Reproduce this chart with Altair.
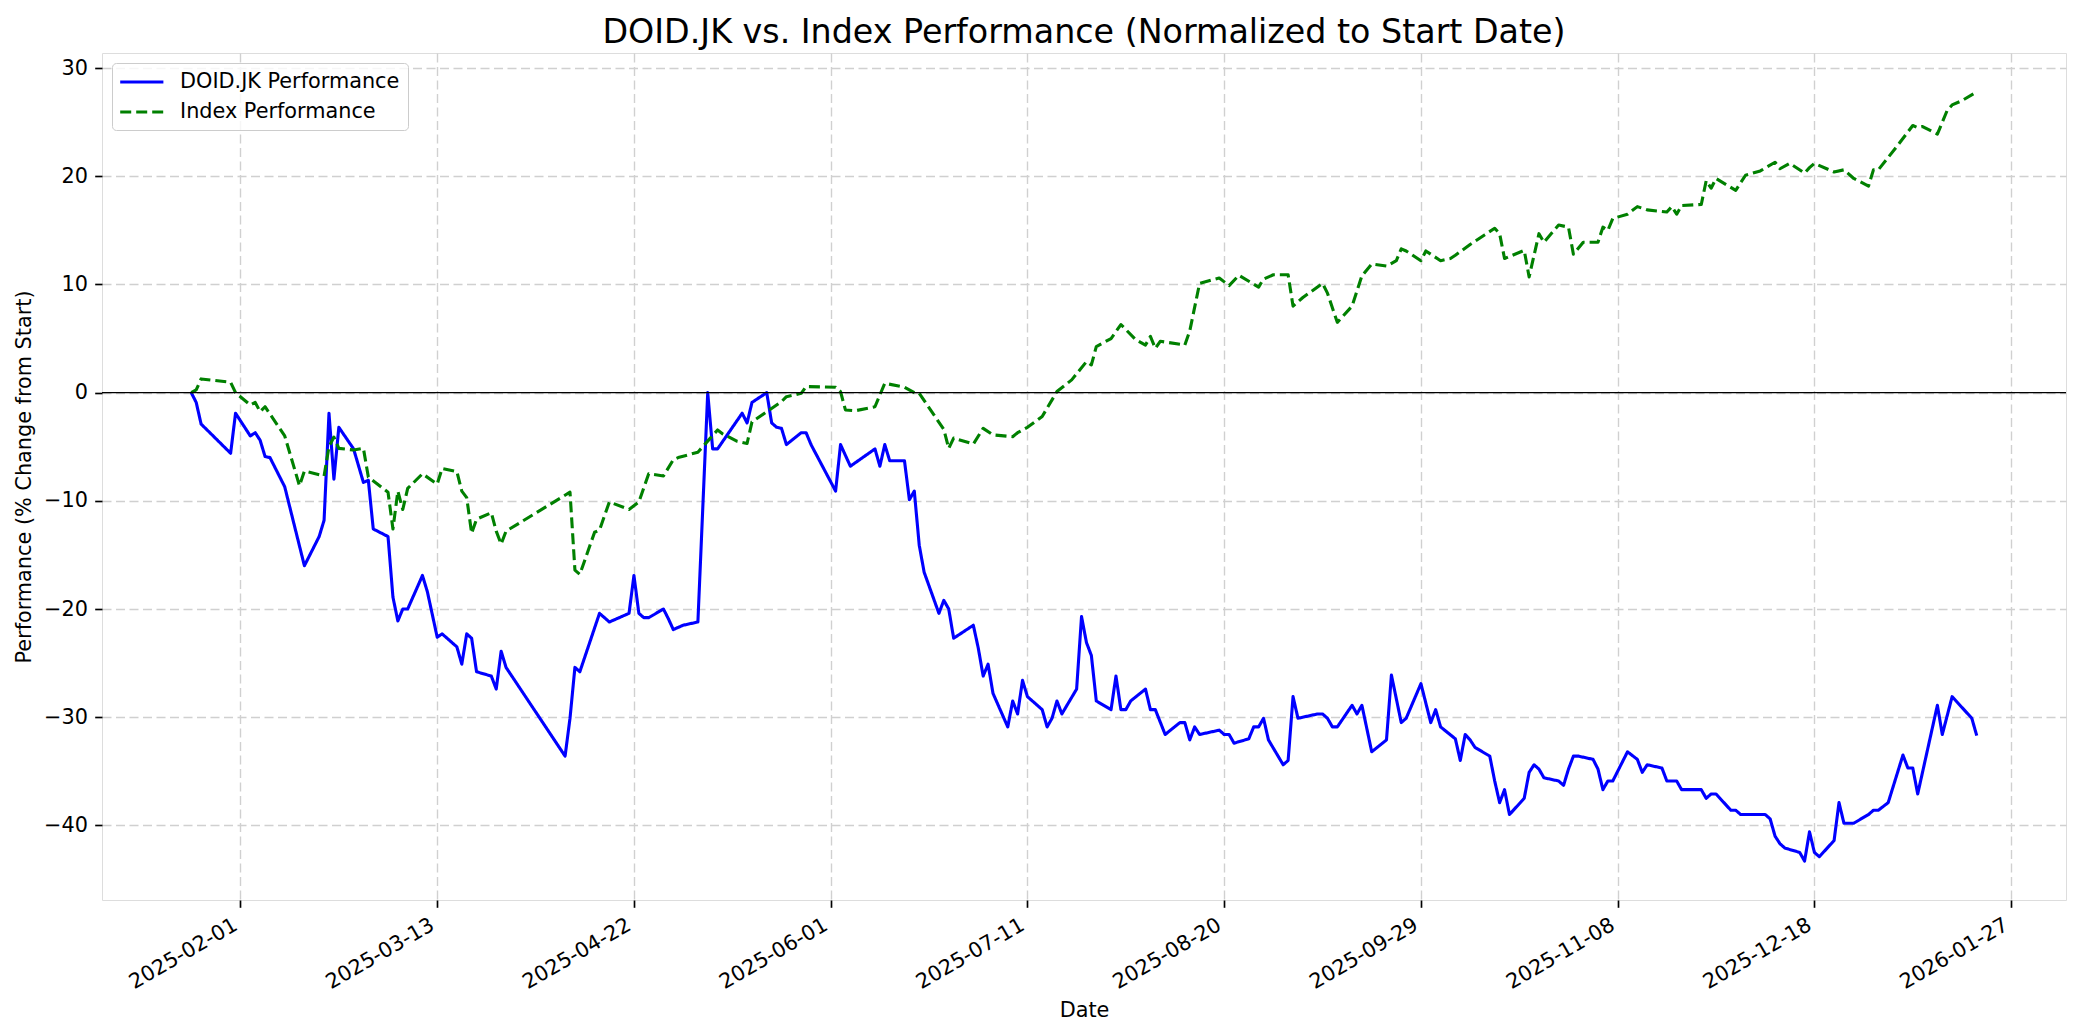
import altair as alt
import pandas as pd

# ---------------- data ----------------
doid_dates = [
    "2025-01-22", "2025-01-23", "2025-01-24", "2025-01-30", "2025-01-31",
    "2025-02-03", "2025-02-04", "2025-02-05", "2025-02-06", "2025-02-07",
    "2025-02-10", "2025-02-14", "2025-02-17", "2025-02-18", "2025-02-19", "2025-02-20", "2025-02-21",
    "2025-02-24", "2025-02-26", "2025-02-27", "2025-02-28",
    "2025-03-03", "2025-03-04", "2025-03-05", "2025-03-06", "2025-03-07",
    "2025-03-10", "2025-03-11", "2025-03-13", "2025-03-14",
    "2025-03-17", "2025-03-18", "2025-03-19", "2025-03-20", "2025-03-21",
    "2025-03-24", "2025-03-25", "2025-03-26", "2025-03-27",
    "2025-04-08", "2025-04-09", "2025-04-10", "2025-04-11",
    "2025-04-15", "2025-04-17", "2025-04-21", "2025-04-22", "2025-04-23", "2025-04-24", "2025-04-25",
    "2025-04-28", "2025-04-29", "2025-04-30", "2025-05-02",
    "2025-05-05", "2025-05-07", "2025-05-08", "2025-05-09",
    "2025-05-14", "2025-05-15", "2025-05-16",
    "2025-05-19", "2025-05-20", "2025-05-21", "2025-05-22", "2025-05-23",
    "2025-05-26", "2025-05-27", "2025-05-28",
    "2025-06-02", "2025-06-03", "2025-06-05",
    "2025-06-10", "2025-06-11", "2025-06-12", "2025-06-13",
    "2025-06-16", "2025-06-17", "2025-06-18", "2025-06-19", "2025-06-20",
    "2025-06-23", "2025-06-24", "2025-06-25", "2025-06-26",
    "2025-06-30", "2025-07-01", "2025-07-02", "2025-07-03", "2025-07-04",
    "2025-07-07", "2025-07-08", "2025-07-09", "2025-07-10", "2025-07-11",
    "2025-07-14", "2025-07-15", "2025-07-16", "2025-07-17", "2025-07-18",
    "2025-07-21", "2025-07-22", "2025-07-23", "2025-07-24", "2025-07-25",
    "2025-07-28", "2025-07-29", "2025-07-30", "2025-07-31", "2025-08-01",
    "2025-08-04", "2025-08-05", "2025-08-06", "2025-08-08",
    "2025-08-11", "2025-08-12", "2025-08-13", "2025-08-14", "2025-08-15",
    "2025-08-19", "2025-08-20", "2025-08-21", "2025-08-22",
    "2025-08-25", "2025-08-26", "2025-08-27", "2025-08-28", "2025-08-29",
    "2025-09-01", "2025-09-02", "2025-09-03", "2025-09-04",
    "2025-09-08", "2025-09-09", "2025-09-10", "2025-09-11", "2025-09-12",
    "2025-09-15", "2025-09-16", "2025-09-17", "2025-09-19",
    "2025-09-22", "2025-09-23", "2025-09-25", "2025-09-26",
    "2025-09-29", "2025-10-01", "2025-10-02", "2025-10-03",
    "2025-10-06", "2025-10-07", "2025-10-08", "2025-10-09", "2025-10-10",
    "2025-10-13", "2025-10-14", "2025-10-15", "2025-10-16", "2025-10-17",
    "2025-10-20", "2025-10-21", "2025-10-22", "2025-10-23", "2025-10-24",
    "2025-10-27", "2025-10-28", "2025-10-29", "2025-10-30", "2025-10-31",
    "2025-11-03", "2025-11-04", "2025-11-05", "2025-11-06", "2025-11-07",
    "2025-11-10", "2025-11-12", "2025-11-13", "2025-11-14",
    "2025-11-17", "2025-11-18", "2025-11-20", "2025-11-21",
    "2025-11-25", "2025-11-26", "2025-11-27", "2025-11-28",
    "2025-12-01", "2025-12-02", "2025-12-03",
    "2025-12-08", "2025-12-09", "2025-12-10", "2025-12-11", "2025-12-12",
    "2025-12-15", "2025-12-16", "2025-12-17", "2025-12-18", "2025-12-19",
    "2025-12-22", "2025-12-23", "2025-12-24", "2025-12-26",
    "2025-12-29", "2025-12-30", "2025-12-31", "2026-01-02",
    "2026-01-05", "2026-01-06", "2026-01-07", "2026-01-08",
    "2026-01-12", "2026-01-13", "2026-01-15", "2026-01-19", "2026-01-20",
]
doid_values = [
    0.0, -0.9, -2.9, -5.6, -1.9,
    -4.0, -3.7, -4.4, -5.9, -6.0,
    -8.7, -16.0, -13.3, -11.8, -1.9, -8.0, -3.2,
    -5.2, -8.3, -8.1, -12.6,
    -13.3, -18.9, -21.1, -20.0, -20.0,
    -16.9, -18.4, -22.6, -22.3,
    -23.5, -25.1, -22.3, -22.7, -25.8,
    -26.2, -27.4, -23.9, -25.4,
    -33.6, -30.1, -25.4, -25.8,
    -20.4, -21.2, -20.4, -16.9, -20.4, -20.8, -20.8,
    -20.0, -20.9, -21.9, -21.5,
    -21.2, 0.0, -5.2, -5.2,
    -1.9, -2.8, -0.9,
    0.0, -2.8, -3.2, -3.3, -4.8,
    -3.7, -3.7, -4.8,
    -9.1, -4.8, -6.8,
    -5.2, -6.8, -4.8, -6.3,
    -6.3, -9.9, -9.1, -14.1, -16.6,
    -20.4, -19.2, -20.0, -22.7,
    -21.5, -23.6, -26.2, -25.1, -27.8,
    -30.9, -28.5, -29.7, -26.6, -28.1,
    -29.3, -30.9, -30.1, -28.5, -29.7,
    -27.4, -20.7, -23.1, -24.3, -28.5,
    -29.3, -26.2, -29.3, -29.3, -28.5,
    -27.4, -29.3, -29.3, -31.6,
    -30.5, -30.5, -32.1, -30.9, -31.6,
    -31.2, -31.6, -31.6, -32.4,
    -32.0, -30.9, -30.9, -30.1, -32.1,
    -34.4, -34.0, -28.1, -30.1,
    -29.7, -29.7, -30.1, -30.9, -30.9,
    -28.9, -29.7, -28.9, -33.2,
    -32.1, -26.1, -30.5, -30.1,
    -26.9, -30.5, -29.3, -30.9,
    -32.0, -34.0, -31.6, -32.1, -32.8,
    -33.6, -35.9, -37.9, -36.7, -39.0,
    -37.5, -35.1, -34.4, -34.8, -35.6,
    -35.9, -36.3, -34.8, -33.6, -33.6,
    -33.9, -34.8, -36.7, -35.9, -35.9,
    -33.2, -33.9, -35.1, -34.4,
    -34.7, -35.9, -35.9, -36.7,
    -36.7, -37.5, -37.1, -37.1,
    -38.6, -38.6, -39.0,
    -39.0, -39.4, -41.0, -41.7, -42.1,
    -42.5, -43.3, -40.6, -42.5, -42.9,
    -41.4, -37.9, -39.8, -39.8,
    -39.0, -38.6, -38.6, -37.9,
    -33.5, -34.7, -34.7, -37.1,
    -28.9, -31.6, -28.1, -30.1, -31.7,
]

index_dates = [
    "2025-01-22", "2025-01-23", "2025-01-24", "2025-01-30", "2025-01-31",
    "2025-02-03", "2025-02-04", "2025-02-05", "2025-02-06", "2025-02-10",
    "2025-02-13", "2025-02-14", "2025-02-18", "2025-02-19", "2025-02-20", "2025-02-21",
    "2025-02-24", "2025-02-26", "2025-02-27",
    "2025-03-03", "2025-03-04", "2025-03-05", "2025-03-06", "2025-03-07",
    "2025-03-10", "2025-03-13", "2025-03-14",
    "2025-03-17", "2025-03-18", "2025-03-19", "2025-03-20", "2025-03-21",
    "2025-03-24", "2025-03-25", "2025-03-26", "2025-03-27",
    "2025-04-09", "2025-04-10", "2025-04-11",
    "2025-04-14", "2025-04-15", "2025-04-17", "2025-04-21", "2025-04-23", "2025-04-25",
    "2025-04-28", "2025-04-30", "2025-05-01",
    "2025-05-05", "2025-05-09", "2025-05-10", "2025-05-13", "2025-05-15", "2025-05-16",
    "2025-05-21", "2025-05-22", "2025-05-23", "2025-05-26", "2025-05-27",
    "2025-06-02", "2025-06-03", "2025-06-04", "2025-06-06",
    "2025-06-10", "2025-06-12", "2025-06-16", "2025-06-18", "2025-06-19",
    "2025-06-24", "2025-06-25", "2025-06-26", "2025-06-30",
    "2025-07-02", "2025-07-04", "2025-07-08", "2025-07-09", "2025-07-11",
    "2025-07-14", "2025-07-17", "2025-07-20", "2025-07-23", "2025-07-24", "2025-07-25",
    "2025-07-28", "2025-07-30", "2025-08-02", "2025-08-04", "2025-08-05", "2025-08-06", "2025-08-07",
    "2025-08-12", "2025-08-13", "2025-08-15", "2025-08-19", "2025-08-21", "2025-08-23",
    "2025-08-27", "2025-08-28", "2025-08-30", "2025-09-02", "2025-09-03", "2025-09-05",
    "2025-09-09", "2025-09-10", "2025-09-12", "2025-09-15", "2025-09-17", "2025-09-19",
    "2025-09-22", "2025-09-24", "2025-09-25", "2025-09-26", "2025-09-29", "2025-09-30",
    "2025-10-03", "2025-10-05", "2025-10-06", "2025-10-09", "2025-10-12", "2025-10-14",
    "2025-10-15", "2025-10-16",
    "2025-10-20", "2025-10-21", "2025-10-23", "2025-10-24", "2025-10-27", "2025-10-29",
    "2025-10-30",
    "2025-11-01", "2025-11-04", "2025-11-05", "2025-11-06", "2025-11-07", "2025-11-10",
    "2025-11-12", "2025-11-14",
    "2025-11-18", "2025-11-19", "2025-11-20", "2025-11-21", "2025-11-25", "2025-11-26",
    "2025-11-27", "2025-11-28",
    "2025-12-02", "2025-12-04", "2025-12-07", "2025-12-10", "2025-12-11", "2025-12-13",
    "2025-12-16", "2025-12-17", "2025-12-18",
    "2025-12-22", "2025-12-24", "2025-12-26", "2025-12-29", "2025-12-30", "2025-12-31",
    "2026-01-04", "2026-01-07", "2026-01-08", "2026-01-09", "2026-01-12", "2026-01-14",
    "2026-01-15", "2026-01-17", "2026-01-20",
]
index_values = [
    0.0, 0.25, 1.27, 0.96, 0.0,
    -1.14, -0.9, -1.76, -1.3, -4.0,
    -8.6, -7.25, -7.7, -5.0, -4.1, -5.15,
    -5.3, -5.15, -7.8,
    -9.2, -12.6, -9.1, -10.8, -8.85,
    -7.5, -8.45, -7.0,
    -7.3, -9.1, -9.7, -13.0, -11.7,
    -11.1, -12.8, -14.0, -12.8,
    -9.2, -16.4, -16.8,
    -12.9, -12.7, -10.1, -10.8, -10.1, -7.5,
    -7.7, -6.2, -6.0,
    -5.5, -3.45, -3.8, -4.5, -4.7, -2.7,
    -1.14, -0.83, -0.37, -0.06, 0.56,
    0.5, 0.1, -1.6, -1.67,
    -1.3, 0.87, 0.5, 0.0, -0.06,
    -3.4, -5.15, -4.2, -4.75,
    -3.3, -3.9, -4.07, -3.7, -3.2,
    -2.2, 0.1, 1.18, 2.87, 2.56, 4.26,
    5.0, 6.3, 4.9, 4.4, 5.2, 4.1, 4.75,
    4.4, 5.7, 10.1, 10.6, 9.9, 10.85,
    9.76, 10.5, 10.9, 10.9, 8.0, 8.8,
    10.1, 9.2, 6.5, 8.0, 10.8, 11.9,
    11.7, 12.2, 13.3, 13.1, 12.2, 13.1,
    12.2, 12.4, 12.7, 13.7, 14.6, 15.2,
    14.7, 12.4,
    13.15, 10.7, 14.7, 13.9, 15.5, 15.3,
    12.8,
    13.9, 13.9, 15.3, 15.0, 16.1, 16.5,
    17.2, 16.9,
    16.7, 17.2, 16.5, 17.3, 17.4, 19.6,
    18.9, 19.8,
    18.7, 20.1, 20.5, 21.3, 20.7, 21.2,
    20.3, 20.8, 21.2,
    20.4, 20.6, 19.8, 19.1, 20.6, 20.6,
    22.9, 24.7, 24.5, 24.6, 23.9, 26.1,
    26.6, 27.0, 27.8,
]

series_names = ["DOID.JK Performance", "Index Performance"]
series_colors = ["blue", "green"]
series_dashes = [[1, 0], [11, 5]]

x_tick_dates = ["2025-02-01", "2025-03-13", "2025-04-22", "2025-06-01", "2025-07-11",
                "2025-08-20", "2025-09-29", "2025-11-08", "2025-12-18", "2026-01-27"]
y_ticks = [-40, -30, -20, -10, 0, 10, 20, 30]
y_range = [-46.9, 31.4]

assert len(doid_dates) == len(doid_values)
assert len(index_dates) == len(index_values)

# ---------------- tables ----------------
df_doid = pd.DataFrame({"Date": doid_dates, "Performance": doid_values,
                        "Series": series_names[0]})
df_index = pd.DataFrame({"Date": index_dates, "Performance": index_values,
                         "Series": series_names[1]})


def dt(s, h=0, m=0):
    y, mo, d = (int(p) for p in s.split("-"))
    return alt.DateTime(year=y, month=mo, date=d, hours=h, minutes=m, utc=True)


FONT = "DejaVu Sans"
FS = 20.8
GRID = "#d0d0d0"
GRID_DASH = [9, 4.5]

x_scale = alt.Scale(type="utc", domain=[dt("2025-01-03", 20, 24), dt("2026-02-07", 3, 36)],
                    nice=False)
y_scale = alt.Scale(domain=y_range, nice=False, zero=False)

x_axis = alt.Axis(
    values=[dt(s) for s in x_tick_dates],
    labelExpr="utcFormat(datum.value, '%Y-%m-%d')",
    labelAngle=330, labelAlign="right", labelBaseline="top", labelOffset=-10,
    labelPadding=7.3, labelFont=FONT, labelFontSize=FS, labelColor="black",
    labelOverlap=False, labelFlush=False,
    tickSize=7.3, tickWidth=1.67, tickColor="black", domain=False,
    grid=True, gridColor=GRID, gridDash=GRID_DASH, gridWidth=1.4,
    title="Date", titleFont=FONT, titleFontSize=FS, titleFontWeight="normal",
    titleColor="black", titlePadding=8,
)
y_axis = alt.Axis(
    values=y_ticks, format="d",
    labelPadding=7.3, labelFont=FONT, labelFontSize=FS, labelColor="black",
    labelOverlap=False,
    tickSize=7.3, tickWidth=1.67, tickColor="black", domain=False,
    grid=True, gridColor=GRID, gridDash=GRID_DASH, gridWidth=1.4,
    title="Performance (% Change from Start)", titleFont=FONT, titleFontSize=FS,
    titleFontWeight="normal", titleColor="black", titlePadding=9,
)

legend = alt.Legend(
    title=None, orient="top-left", offset=10, padding=8,
    fillColor="rgba(255,255,255,0.8)", strokeColor="#cccccc", cornerRadius=4,
    labelFont=FONT, labelFontSize=FS, labelColor="black", labelLimit=500,
    symbolType="M-1.2,0L3.6,0", symbolSize=324, symbolStrokeWidth=3.1,
    rowPadding=9, labelOffset=38,
)

color_scale = alt.Scale(domain=series_names, range=series_colors)
dash_scale = alt.Scale(domain=series_names, range=series_dashes)


def line_layer(df):
    return alt.Chart(df).mark_line(strokeWidth=3.1, strokeJoin="round").encode(
        x=alt.X("Date:T", scale=x_scale, axis=x_axis),
        y=alt.Y("Performance:Q", scale=y_scale, axis=y_axis),
        color=alt.Color("Series:N", scale=color_scale, legend=legend),
        strokeDash=alt.StrokeDash("Series:N", scale=dash_scale, legend=legend),
    )


zero_line = alt.Chart(pd.DataFrame({"level": [0]})).mark_rule(
    color="black", strokeWidth=1.1
).encode(y=alt.Y("level:Q", scale=y_scale, axis=y_axis))

chart = alt.layer(line_layer(df_doid), line_layer(df_index), zero_line).properties(
    width=1964,
    height=847,
    padding={"left": 94, "top": 45, "right": 8, "bottom": 126},
    autosize=alt.AutoSizeParams(type="none"),
    title=alt.TitleParams(
        text="DOID.JK vs. Index Performance (Normalized to Start Date)",
        font=FONT, fontSize=33.3, fontWeight="normal", color="black",
        anchor="middle", offset=-23.5, baseline="alphabetic",
    ),
).configure_view(stroke="black", strokeWidth=1.67).configure(font=FONT)

chart.save("out.html", embed_options={"renderer": "svg", "actions": False})
